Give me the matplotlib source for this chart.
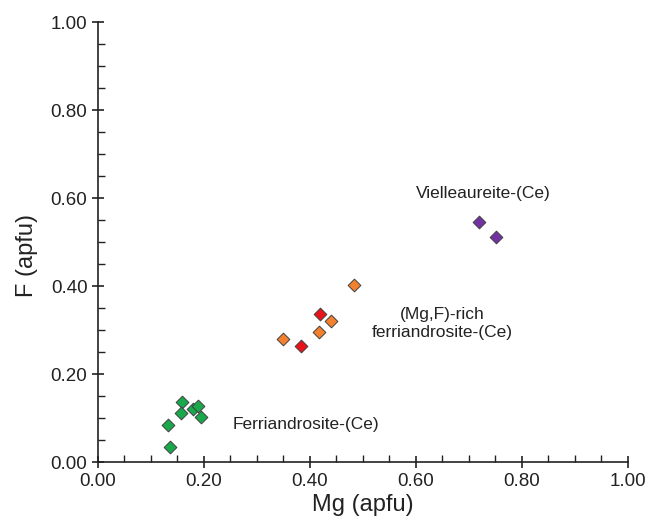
import matplotlib
matplotlib.use('Agg')
import matplotlib.pyplot as plt
from matplotlib.ticker import MultipleLocator, FormatStrFormatter

plt.rcParams['font.family'] = ['Liberation Sans', 'DejaVu Sans']

# Mg and F (apfu) for each group
ferri_mg = [0.159, 0.156, 0.133, 0.136, 0.180, 0.189, 0.195]
ferri_f = [0.136, 0.111, 0.085, 0.035, 0.120, 0.127, 0.102]

mgf_orange_mg = [0.484, 0.439, 0.417, 0.349]
mgf_orange_f = [0.402, 0.320, 0.295, 0.280]

mgf_red_mg = [0.420, 0.383]
mgf_red_f = [0.336, 0.264]

viel_mg = [0.720, 0.752]
viel_f = [0.545, 0.511]

fig = plt.figure(figsize=(6.48, 5.30), dpi=100)
ax = fig.add_axes([0.151, 0.128, 0.818, 0.830])

marker_kw = dict(marker='D', s=42, edgecolors='#404040', linewidths=0.7, zorder=3)
ax.scatter(ferri_mg, ferri_f, c='#19a94b', **marker_kw)
ax.scatter(mgf_orange_mg, mgf_orange_f, c='#f2802e', **marker_kw)
ax.scatter(mgf_red_mg, mgf_red_f, c='#e8141a', **marker_kw)
ax.scatter(viel_mg, viel_f, c='#7232a3', **marker_kw)

ax.text(0.727, 0.611, 'Vielleaureite-(Ce)', ha='center', va='center', fontsize=12.5,
        color='#222222')
ax.text(0.65, 0.315, '(Mg,F)-rich\nferriandrosite-(Ce)', ha='center', va='center',
        fontsize=12.5, linespacing=1.2, color='#222222')
ax.text(0.392, 0.086, 'Ferriandrosite-(Ce)', ha='center', va='center', fontsize=12.5,
        color='#222222')

ax.set_xlim(0, 1)
ax.set_ylim(0, 1)
ax.spines['top'].set_visible(False)
ax.spines['right'].set_visible(False)
for s in ('left', 'bottom'):
    ax.spines[s].set_linewidth(1.2)
    ax.spines[s].set_color('#222222')

ax.xaxis.set_major_locator(MultipleLocator(0.2))
ax.xaxis.set_minor_locator(MultipleLocator(0.05))
ax.yaxis.set_major_locator(MultipleLocator(0.2))
ax.yaxis.set_minor_locator(MultipleLocator(0.05))
ax.xaxis.set_major_formatter(FormatStrFormatter('%.2f'))
ax.yaxis.set_major_formatter(FormatStrFormatter('%.2f'))

ax.tick_params(which='major', direction='inout', length=9, width=1.2, labelsize=13.5,
               color='#222222', labelcolor='#222222', pad=3)
ax.tick_params(which='minor', direction='in', length=5, width=1.0, color='#222222')

ax.set_xlabel('Mg (apfu)', fontsize=17, labelpad=3, color='#222222')
ax.set_ylabel('F (apfu)', fontsize=17, color='#222222')
ax.yaxis.set_label_coords(-0.112, 0.47)

fig.savefig('out.png', dpi=100)
